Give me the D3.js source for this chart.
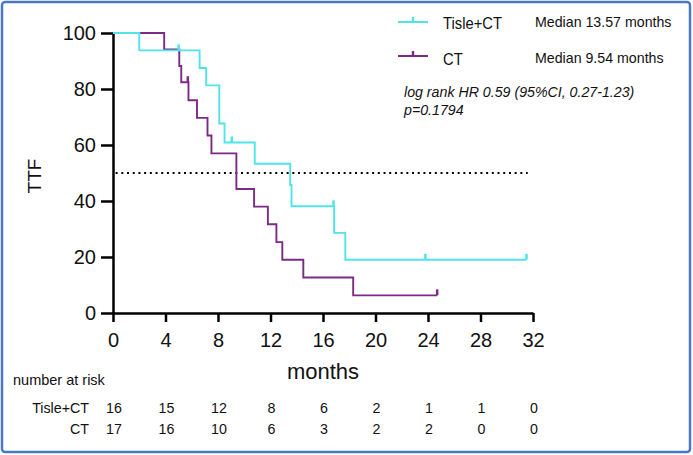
<!DOCTYPE html>
<html>
<head>
<meta charset="utf-8">
<script src="https://cdn.jsdelivr.net/npm/d3@7"></script>
<style>
  body { margin: 0; background: #fff; }
  text { font-family: Arial, "Liberation Sans", sans-serif; }
</style>
</head>
<body>
<div id="chart"></div>
<script>
// step curves (months, % TTF)
const tisleTimes = [0, 2.0, 6.6, 7.1, 8.1, 8.5, 10.8, 13.5, 13.6, 16.85, 17.7];
const tisleSurv = [100, 93.8, 87.5, 81.3, 67.7, 60.9, 53.3, 45.7, 38.1, 28.6, 19.0];
const tisleEnd = 31.5;
const tisleCensor = [5.0, 9.05, 16.8, 23.8, 31.5];

const ctTimes = [0, 3.9, 5.05, 5.2, 5.75, 6.4, 7.2, 7.5, 9.4, 10.75, 11.8, 12.45, 12.9, 14.5, 18.3];
const ctSurv = [100, 94.1, 88.2, 82.4, 76.0, 69.7, 63.4, 57.0, 44.3, 38.0, 31.7, 25.3, 19.0, 12.7, 6.3];
const ctEnd = 24.7;
const ctCensor = [5.7, 24.7];

const xTicks = [0, 4, 8, 12, 16, 20, 24, 28, 32];
const yTicks = [0, 20, 40, 60, 80, 100];
const riskTisle = [16, 15, 12, 8, 6, 2, 1, 1, 0];
const riskCT = [17, 16, 10, 6, 3, 2, 2, 0, 0];

const width = 693, height = 455;
const cyan = '#50e4e8', purple = '#7b2b84';

const svg = d3.select('#chart').append('svg')
    .attr('width', width)
    .attr('height', height);

// blue frame
svg.append('rect')
    .attr('x', 2).attr('y', 2)
    .attr('width', width - 5).attr('height', height - 5)
    .attr('rx', 3)
    .attr('fill', 'none')
    .attr('stroke', '#4a78c8')
    .attr('stroke-width', 2.5);

const x = d3.scaleLinear().domain([0, 32]).range([113, 533]);
const y = d3.scaleLinear().domain([0, 100]).range([313, 33]);

// axes
const xAxis = svg.append('g')
    .attr('transform', 'translate(0,' + y(0) + ')')
    .call(d3.axisBottom(x).tickValues(xTicks).tickSize(9).tickPadding(11).tickSizeOuter(0));
const yAxis = svg.append('g')
    .attr('transform', 'translate(' + x(0) + ',0)')
    .call(d3.axisLeft(y).tickValues(yTicks).tickSize(12).tickPadding(5).tickSizeOuter(0));

[xAxis, yAxis].forEach(function(a) {
    a.select('.domain').attr('stroke', '#000').attr('stroke-width', 2.5);
    a.selectAll('.tick line').attr('stroke', '#000').attr('stroke-width', 2.5);
    a.selectAll('.tick text')
        .attr('fill', '#111')
        .style('font-size', '20px')
        .style('font-family', 'Arial, "Liberation Sans", sans-serif');
});

// median reference line
svg.append('line')
    .attr('x1', x(0.2)).attr('x2', x(31.6))
    .attr('y1', y(50)).attr('y2', y(50))
    .attr('stroke', '#000')
    .attr('stroke-width', 2)
    .attr('stroke-dasharray', '2,3.7');

const line = d3.line()
    .x(function(d) { return x(d[0]); })
    .y(function(d) { return y(d[1]); })
    .curve(d3.curveStepAfter);

function stepAt(times, surv, t) {
    let s = surv[0];
    for (let i = 0; i < times.length; i++) if (times[i] <= t) s = surv[i];
    return s;
}

function drawCurve(times, surv, end, censor, color) {
    const pts = times.map(function(t, i) { return [t, surv[i]]; });
    pts.push([end, surv[surv.length - 1]]);
    svg.append('path')
        .datum(pts)
        .attr('d', line)
        .attr('fill', 'none')
        .attr('stroke', color)
        .attr('stroke-width', 1.9);
    svg.selectAll(null)
        .data(censor)
        .enter()
        .append('line')
        .attr('x1', function(d) { return x(d); })
        .attr('x2', function(d) { return x(d); })
        .attr('y1', function(d) { return y(stepAt(times, surv, d)); })
        .attr('y2', function(d) { return y(stepAt(times, surv, d)) - 6; })
        .attr('stroke', color)
        .attr('stroke-width', 2.5);
}

drawCurve(ctTimes, ctSurv, ctEnd, ctCensor, purple);
drawCurve(tisleTimes, tisleSurv, tisleEnd, tisleCensor, cyan);

// condensed text: regular font squeezed horizontally
function narrowText(px, py, str, size, sx, anchor) {
    return svg.append('text')
        .attr('transform', 'translate(' + px + ',' + py + ') scale(' + sx + ',1)')
        .attr('text-anchor', anchor || 'start')
        .style('font-size', size + 'px')
        .attr('fill', '#111')
        .text(str);
}

// axis titles
svg.append('text')
    .attr('transform', 'translate(41,176) rotate(-90)')
    .attr('text-anchor', 'middle')
    .style('font-size', '19px')
    .attr('fill', '#111')
    .text('TTF');
svg.append('text')
    .attr('x', 323).attr('y', 379)
    .attr('text-anchor', 'middle')
    .style('font-size', '22px')
    .attr('fill', '#111')
    .text('months');

// legend
const legend = [
    { name: 'Tisle+CT', median: 'Median 13.57 months', color: cyan, y: 22, ty: 29 },
    { name: 'CT', median: 'Median 9.54 months', color: purple, y: 56, ty: 65 }
];
legend.forEach(function(d) {
    svg.append('line')
        .attr('x1', 398).attr('x2', 428)
        .attr('y1', d.y).attr('y2', d.y)
        .attr('stroke', d.color)
        .attr('stroke-width', 2);
    svg.append('line')
        .attr('x1', 413).attr('x2', 413)
        .attr('y1', d.y).attr('y2', d.y - 5)
        .attr('stroke', d.color)
        .attr('stroke-width', 2.5);
    narrowText(443, d.ty, d.name, 17, 0.87);
    svg.append('text')
        .attr('x', 535).attr('y', d.ty - 2)
        .style('font-size', '14.2px')
        .attr('fill', '#111')
        .text(d.median);
});

svg.append('text')
    .attr('x', 404).attr('y', 97)
    .style('font-size', '14.2px')
    .style('font-style', 'italic')
    .attr('fill', '#111')
    .text('log rank HR 0.59 (95%CI, 0.27-1.23)');
svg.append('text')
    .attr('x', 404).attr('y', 115)
    .style('font-size', '14.2px')
    .style('font-style', 'italic')
    .attr('fill', '#111')
    .text('p=0.1794');

// number at risk table
narrowText(13, 385, 'number at risk', 14.5, 1);

const rows = [
    { label: 'Tisle+CT', vals: riskTisle, y: 413 },
    { label: 'CT', vals: riskCT, y: 434 }
];
rows.forEach(function(r) {
    narrowText(89, r.y, r.label, 15.5, 0.92, 'end');
    r.vals.forEach(function(v, i) {
        narrowText(x(xTicks[i]) + 1, r.y, v, 15.5, 0.92, 'middle');
    });
});
</script>
</body>
</html>
